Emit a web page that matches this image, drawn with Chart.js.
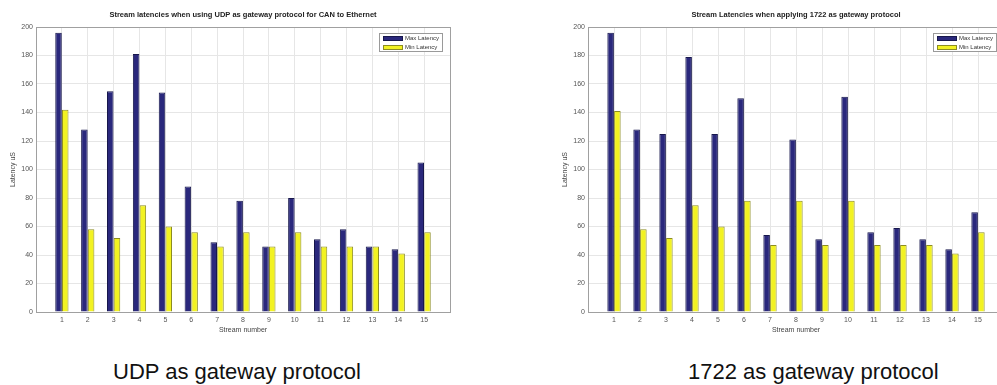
<!DOCTYPE html>
<html><head><meta charset="utf-8">
<script src="https://cdn.jsdelivr.net/npm/chart.js@4/dist/chart.umd.min.js"></script>
<style>
html,body{margin:0;padding:0;width:997px;height:385px;overflow:hidden;background:#fff;}
#c1{position:absolute;left:0;top:0;width:485px;height:338px;}
#c2{position:absolute;left:552px;top:0;width:490px;height:338px;}
.cap{position:absolute;font-family:'Liberation Sans',Arial,sans-serif;font-size:22px;color:#111;white-space:nowrap;top:359px;line-height:25px;}
</style></head><body>
<canvas id="c1" width="485" height="338"></canvas>
<canvas id="c2" width="490" height="338"></canvas>
<div class="cap" style="left:113px">UDP as gateway protocol</div>
<div class="cap" style="left:688px">1722 as gateway protocol</div>
<script>
// ---- data ----
const streams = ['1','2','3','4','5','6','7','8','9','10','11','12','13','14','15'];
const seriesNames = ['Max Latency', 'Min Latency'];
const udpMax = [196, 128, 155, 181, 154, 88, 49, 78, 46, 80, 51, 58, 46, 44, 105];
const udpMin = [142, 58, 52, 75, 60, 56, 46, 56, 46, 56, 46, 46, 46, 41, 56];
const avbMax = [196, 128, 125, 179, 125, 150, 54, 121, 51, 151, 56, 59, 51, 44, 70];
const avbMin = [141, 58, 52, 75, 60, 78, 47, 78, 47, 78, 47, 47, 47, 41, 56];
const yTicks = [0, 20, 40, 60, 80, 100, 120, 140, 160, 180, 200];
const titleUdp = 'Stream latencies when using UDP as gateway protocol for CAN to Ethernet';
const title1722 = 'Stream Latencies when applying 1722 as gateway protocol';

// ---- styling ----
const NAVY = '#2a287c', NAVY_B = '#17174c';
const YEL = '#f2f222', YEL_B = '#8c8c22';
const FONT = "'Liberation Sans', Arial, sans-serif";
const GRID = '#e6e6e6', BOX = '#a0a0a0';

const boxLegend = {
  id: 'boxLegend',
  afterDatasetsDraw(chart) {
    const ctx = chart.ctx, a = chart.chartArea;
    const w = 64, h = 19, x = Math.round(a.right) - 7 - w, y = Math.round(a.top) + 6;
    ctx.save();
    ctx.fillStyle = '#fff'; ctx.fillRect(x, y, w, h);
    ctx.strokeStyle = '#9a9a9a'; ctx.lineWidth = 1; ctx.strokeRect(x + 0.5, y + 0.5, w - 1, h - 1);
    chart.data.datasets.forEach((ds, i) => {
      const ry = y + 3 + i * 9;
      ctx.fillStyle = ds.backgroundColor; ctx.fillRect(x + 4, ry, 20, 5);
      ctx.strokeStyle = ds.borderColor; ctx.strokeRect(x + 4.5, ry + 0.5, 19, 4);
      ctx.fillStyle = '#333'; ctx.font = '6px ' + FONT; ctx.textBaseline = 'middle'; ctx.textAlign = 'left';
      ctx.fillText(ds.label, x + 26, ry + 2.5);
    });
    ctx.restore();
  }
};

function makeChart(id, title, maxV, minV, padRight) {
  const labels = ['', ...streams, ''];
  const lastIdx = labels.length - 1;
  return new Chart(document.getElementById(id), {
    type: 'bar',
    data: {
      labels,
      datasets: [
        { label: seriesNames[0], data: [null, ...maxV, null], backgroundColor: NAVY, borderColor: NAVY_B, borderWidth: 1,
          categoryPercentage: 0.52, barPercentage: 0.97 },
        { label: seriesNames[1], data: [null, ...minV, null], backgroundColor: YEL, borderColor: YEL_B, borderWidth: 1,
          categoryPercentage: 0.52, barPercentage: 0.97 }
      ]
    },
    options: {
      responsive: false,
      animation: false,
      layout: { padding: { left: 5, right: padRight, top: 0, bottom: 0 } },
      plugins: {
        legend: { display: false },
        tooltip: { enabled: false },
        title: { display: true, fullSize: false, text: title, color: '#222', font: { family: FONT, size: 7.5, weight: 'bold' },
                 padding: { top: 10, bottom: 8 } }
      },
      scales: {
        x: {
          offset: false,
          grid: { offset: false, drawTicks: false, color: c => (c.index === lastIdx ? BOX : GRID) },
          border: { color: BOX },
          ticks: { autoSkip: false, maxRotation: 0, padding: 4, color: '#555', font: { family: FONT, size: 7 } },
          title: { display: true, text: 'Stream number', color: '#444', font: { family: FONT, size: 7 }, padding: { top: 2, bottom: 4 } },
          afterFit: s => { s.height = 26; }
        },
        y: {
          min: 0, max: 200,
          afterBuildTicks: s => { s.ticks = yTicks.map(v => ({ value: v })); },
          grid: { drawTicks: false, color: c => (c.tick && c.tick.value === 200 ? BOX : GRID) },
          border: { color: BOX },
          ticks: { padding: 3, color: '#555', font: { family: FONT, size: 7 } },
          title: { display: true, text: 'Latency uS', color: '#444', font: { family: FONT, size: 7 }, padding: { top: 4, bottom: 4 } },
          afterFit: s => { s.width = 31; }
        }
      }
    },
    plugins: [boxLegend]
  });
}

makeChart('c1', titleUdp, udpMax, udpMin, 35);
makeChart('c2', title1722, avbMax, avbMin, 38);
</script>
</body></html>
